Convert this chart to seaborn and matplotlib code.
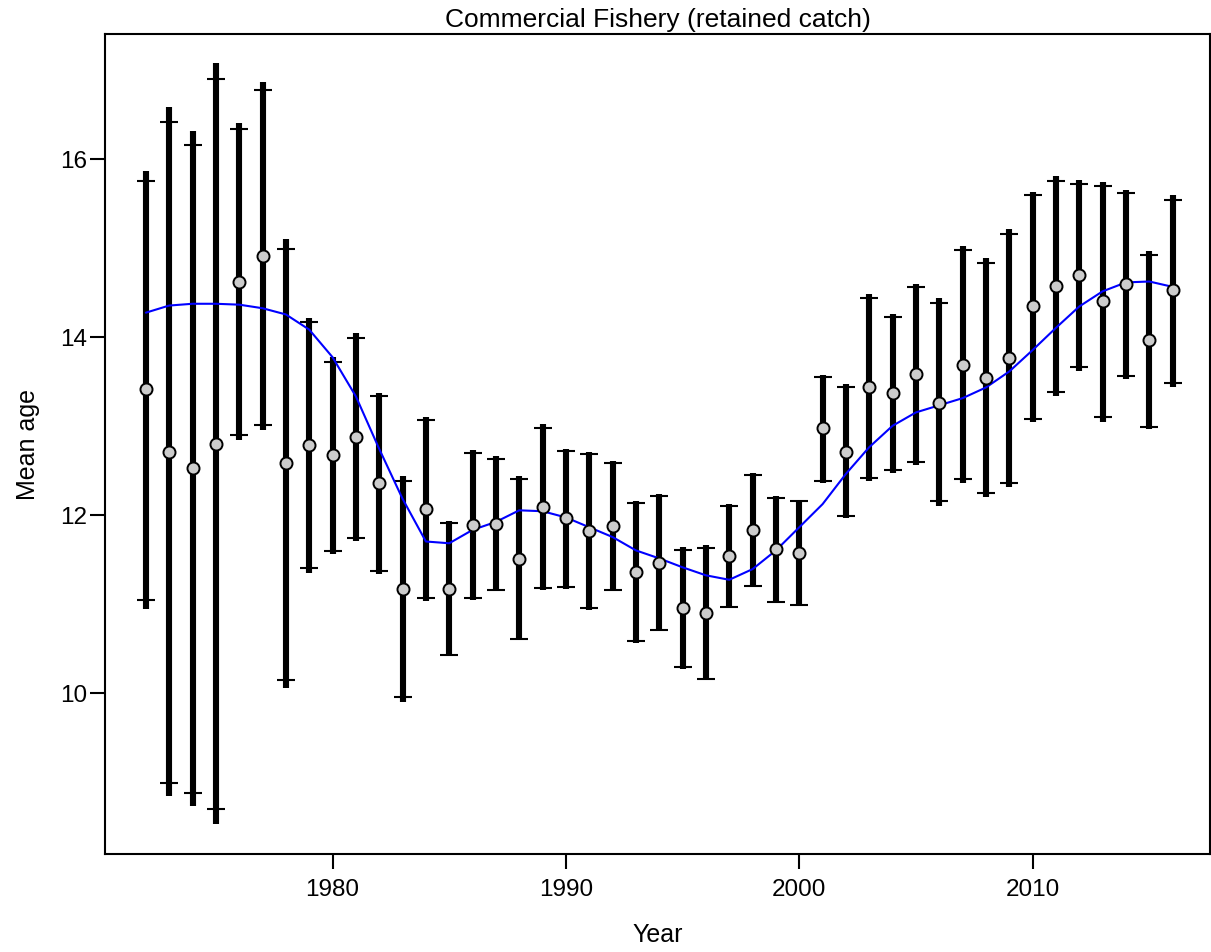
import numpy as np
import pandas as pd
import matplotlib
matplotlib.use("Agg")
import matplotlib.pyplot as plt
import seaborn as sns

# ---- data ----
years = list(range(1972, 2017))
obs_mean_age = [13.41, 12.71, 12.52, 12.80, 14.61, 14.91, 12.58, 12.78, 12.67, 12.87,
                12.36, 11.17, 12.07, 11.17, 11.89, 11.90, 11.50, 12.09, 11.96, 11.82,
                11.87, 11.36, 11.46, 10.95, 10.90, 11.54, 11.83, 11.62, 11.57, 12.97,
                12.71, 13.43, 13.37, 13.58, 13.26, 13.68, 13.54, 13.76, 14.34, 14.57,
                14.69, 14.40, 14.59, 13.96, 14.52]
exp_mean_age = [14.27, 14.35, 14.37, 14.37, 14.36, 14.32, 14.25, 14.08, 13.77, 13.33,
                12.74, 12.18, 11.70, 11.68, 11.83, 11.92, 12.05, 12.04, 11.97, 11.86,
                11.75, 11.60, 11.51, 11.41, 11.32, 11.27, 11.39, 11.60, 11.86, 12.12,
                12.46, 12.76, 13.00, 13.15, 13.23, 13.31, 13.43, 13.61, 13.85, 14.10,
                14.34, 14.51, 14.61, 14.62, 14.56]
thick_hi = [15.86, 16.58, 16.31, 17.07, 16.40, 16.86, 15.10, 14.21, 13.77, 14.04,
            13.37, 12.43, 13.10, 11.93, 12.73, 12.66, 12.43, 13.02, 12.74, 12.71,
            12.60, 12.16, 12.23, 11.64, 11.66, 12.12, 12.47, 12.21, 12.17, 13.57,
            13.47, 14.48, 14.26, 14.59, 14.43, 15.02, 14.88, 15.21, 15.63, 15.80,
            15.76, 15.74, 15.65, 14.96, 15.59]
cap_hi = [15.75, 16.41, 16.15, 16.89, 16.33, 16.77, 14.99, 14.16, 13.72, 13.99,
          13.33, 12.38, 13.06, 11.91, 12.69, 12.63, 12.40, 12.98, 12.72, 12.68,
          12.58, 12.13, 12.21, 11.61, 11.63, 12.10, 12.45, 12.19, 12.15, 13.55,
          13.44, 14.44, 14.22, 14.56, 14.38, 14.97, 14.83, 15.15, 15.59, 15.75,
          15.72, 15.69, 15.61, 14.92, 15.54]
cap_lo = [11.04, 8.99, 8.88, 8.69, 12.90, 13.01, 10.14, 11.40, 11.59, 11.74,
          11.37, 9.95, 11.06, 10.43, 11.07, 11.16, 10.61, 11.18, 11.19, 10.95,
          11.16, 10.58, 10.71, 10.29, 10.16, 10.96, 11.20, 11.02, 10.99, 12.38,
          11.99, 12.41, 12.50, 12.59, 12.15, 12.40, 12.25, 12.36, 13.08, 13.38,
          13.66, 13.10, 13.56, 12.99, 13.48]
thick_lo = [10.94, 8.84, 8.73, 8.53, 12.84, 12.95, 10.06, 11.35, 11.56, 11.70,
            11.34, 9.90, 11.03, 10.42, 11.04, 11.14, 10.59, 11.16, 11.17, 10.93,
            11.15, 10.56, 10.69, 10.27, 10.14, 10.95, 11.19, 11.01, 10.97, 12.36,
            11.96, 12.38, 12.47, 12.56, 12.10, 12.36, 12.20, 12.31, 13.04, 13.33,
            13.62, 13.04, 13.53, 12.96, 13.44]
x_ticks = [1980, 1990, 2000, 2010]
y_ticks = [10, 12, 14, 16]
title = "Commercial Fishery (retained catch)"
x_label = "Year"
y_label = "Mean age"

df = pd.DataFrame({"Year": years, "obs": obs_mean_age, "exp": exp_mean_age,
                   "thick_hi": thick_hi, "thick_lo": thick_lo,
                   "cap_hi": cap_hi, "cap_lo": cap_lo})

sns.set_style("ticks")
plt.rcParams["font.family"] = ["Liberation Sans", "DejaVu Sans"]
plt.rcParams["text.color"] = "black"
plt.rcParams["axes.labelcolor"] = "black"
plt.rcParams["xtick.color"] = "black"
plt.rcParams["ytick.color"] = "black"

fig = plt.figure(figsize=(12.11, 9.53), dpi=100)
ax = fig.add_axes([105 / 1211, 1 - 855 / 953, (1210 - 105) / 1211, (855 - 35) / 953])

# thick interval bars
ax.vlines(df["Year"], df["thick_lo"], df["thick_hi"], color="black", lw=4.4, zorder=2)
# thin interval with caps
cap_center = (df["cap_hi"] + df["cap_lo"]) / 2
cap_err = (df["cap_hi"] - df["cap_lo"]) / 2
ax.errorbar(df["Year"], cap_center, yerr=cap_err, fmt="none", ecolor="black",
            elinewidth=1.5, capsize=6.2, capthick=1.5, zorder=2)

# expected line
sns.lineplot(data=df, x="Year", y="exp", color="blue", lw=1.5, ax=ax, zorder=3)
# observed points
sns.scatterplot(data=df, x="Year", y="obs", color="#cccccc", edgecolor="black",
                linewidth=1.4, s=75, ax=ax, zorder=4)

ax.set_xlim(1970.25, 2017.6)
ax.set_ylim(8.19, 17.40)
ax.set_xticks(x_ticks)
ax.set_yticks(y_ticks)
for s in ax.spines.values():
    s.set_visible(True)
    s.set_linewidth(1.5)
    s.set_color("black")
ax.tick_params(axis="both", direction="out", length=11, width=1.5, labelsize=17.5,
               colors="black", labelcolor="black")
ax.tick_params(axis="x", pad=6)
ax.tick_params(axis="y", pad=2)
ax.set_xlabel(x_label, fontsize=18, labelpad=16, color="black")
ax.set_ylabel(y_label, fontsize=18, labelpad=14, color="black")
ax.set_title(title, fontsize=19, pad=6, color="black")

fig.savefig("out.png", dpi=100)
